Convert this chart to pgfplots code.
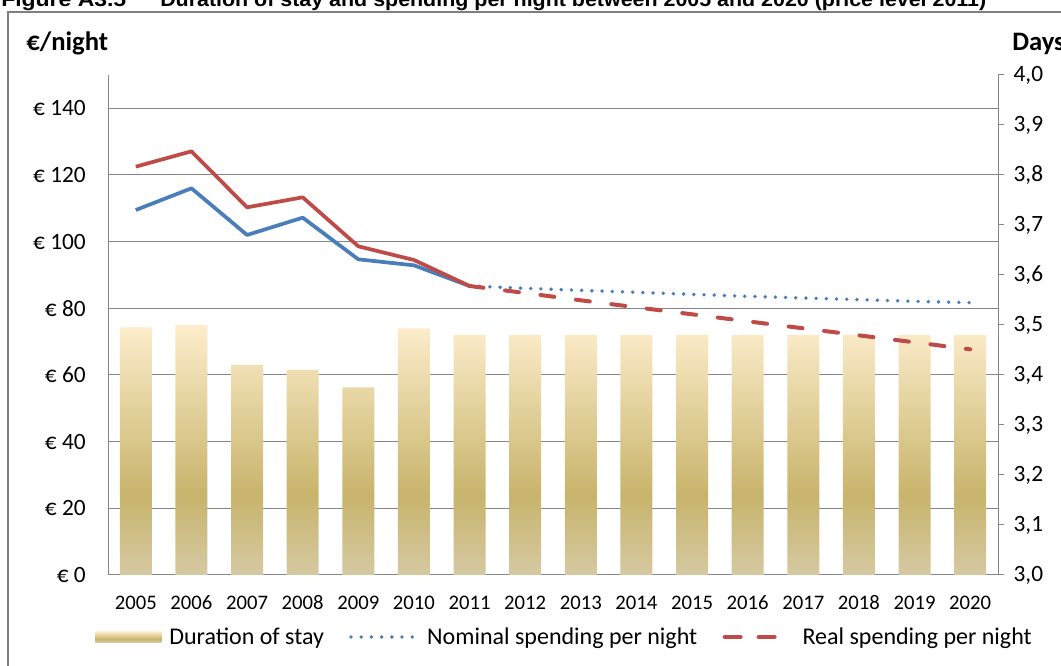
\documentclass[border=0pt]{standalone}
\usepackage{pgfplots}
\pgfplotsset{compat=1.18}
\usepackage{fontspec}
\setmainfont{Carlito}
\newfontfamily\titlefont{Liberation Sans}
\newlength\pxu \setlength\pxu{0.75pt}

\definecolor{gridgray}{HTML}{868686}
\definecolor{framegray}{HTML}{7F7F7F}
\definecolor{nomblue}{HTML}{4A7EBB}
\definecolor{realred}{HTML}{BE4B48}
\definecolor{goldtop}{HTML}{FDEDCB}
\definecolor{goldmid}{HTML}{C8B46C}
\definecolor{goldbot}{HTML}{D5C9A2}
\pgfdeclareverticalshading{goldbar}{100bp}{color(0bp)=(goldbot); color(25bp)=(goldbot); color(41bp)=(goldmid); color(75bp)=(goldtop); color(100bp)=(goldtop)}

\newcommand\ylab{\fontsize{17.5pt}{20pt}\selectfont}
\newcommand\xlab{\fontsize{15.5pt}{18pt}\selectfont}
\newcommand\lgd{\fontsize{18pt}{21pt}\selectfont}
\newcommand\hdr{\fontsize{20pt}{24pt}\selectfont\bfseries}

\pgfplotsset{base/.style={
  scale only axis, width=667.5pt, height=375pt,
  at={(81pt,68.25pt)}, anchor=south west,
  xmin=-0.5, xmax=15.5},
  nomlegend/.style={legend image code/.code={\draw[##1] (1.3pt,0pt) -- (47.2pt,0pt); \path (0pt,0pt) (51pt,0pt);}},
  reallegend/.style={legend image code/.code={\draw[##1, dash pattern=on 12pt off 13.5pt] (1.5pt,0pt) -- (39pt,0pt); \path (0pt,0pt) (52.5pt,0pt);}},
  barlegend/.style={legend image code/.code={\path[draw=none, shade, shading=goldbar] (0pt,-4pt) rectangle (49.5pt,4pt);}}
}

\begin{document}
\begin{tikzpicture}[x=0.75pt,y=0.75pt]
\useasboundingbox (0,0) rectangle (1061,666);
% frame
\draw[framegray, line width=1.5pt] (8,-20) -- (8,654) -- (1080,654);
% title (clipped at top, as in the source figure)
\node[anchor=base west, inner sep=0pt] at (1,659)
  {\resizebox{125\pxu}{\height}{\titlefont\bfseries\fontsize{15pt}{18pt}\selectfont Figure A3.5}};
\node[anchor=base west, inner sep=0pt] at (160,659)
  {\resizebox{826\pxu}{\height}{\titlefont\bfseries\fontsize{15pt}{18pt}\selectfont Duration of stay and spending per night between 2005 and 2020 (price level 2011)}};
% axis headers
\node[anchor=base west, inner sep=0pt] at (26,615) {\hdr €/night};
\node[anchor=base west, inner sep=0pt] at (1012,615) {\hdr Days};

% axis 1: grid, left axis, x labels
\begin{axis}[base, ymin=0, ymax=150,
  axis x line*=bottom, axis y line*=left,
  axis line style={draw=gridgray, line width=0.75pt, -},
  ymajorgrids, grid style={draw=gridgray, line width=0.75pt},
  ytick={0,20,40,60,80,100,120,140},
  yticklabels={€ 0,€ 20,€ 40,€ 60,€ 80,€ 100,€ 120,€ 140},
  xtick={0,1,2,3,4,5,6,7,8,9,10,11,12,13,14,15},
  xticklabels={2005,2006,2007,2008,2009,2010,2011,2012,2013,2014,2015,2016,2017,2018,2019,2020},
  major tick length=0pt,
  yticklabel style={font=\ylab, inner sep=0pt, anchor=east, xshift=-16.5pt},
  xticklabel style={font=\xlab, inner sep=0pt, anchor=base, yshift=-26pt},
]
\end{axis}

% axis 2: days (right), bars
\begin{axis}[base, ymin=3, ymax=4,
  y coord trafo/.code={\pgfmathparse{#1-3}},
  y coord inv trafo/.code={\pgfmathparse{#1+3}},
  axis x line=none, axis y line*=right,
  axis line style={draw=gridgray, line width=0.75pt, -},
  ytick={3.0,3.1,3.2,3.3,3.4,3.5,3.6,3.7,3.8,3.9,4.0},
  yticklabels={{3,0},{3,1},{3,2},{3,3},{3,4},{3,5},{3,6},{3,7},{3,8},{3,9},{4,0}},
  tick align=outside, major tick length=4.5pt,
  tick style={draw=gridgray, line width=0.75pt},
  yticklabel style={font=\ylab, inner sep=0pt, anchor=west, xshift=7pt},
  ybar, bar width=24pt,
]
\addplot[draw=none, shade, shading=goldbar] coordinates {
(0,3.495) (1,3.50) (2,3.42) (3,3.41) (4,3.375) (5,3.493) (6,3.48) (7,3.48)
(8,3.48) (9,3.48) (10,3.48) (11,3.48) (12,3.48) (13,3.48) (14,3.48) (15,3.48)};
\end{axis}

% axis 3: spending lines + legend
\begin{axis}[base, ymin=0, ymax=150, hide axis,
  legend columns=3,
  legend cell align=left,
  legend style={at={(axis description cs:-0.0146,-0.124)}, anchor=west,
    draw=none, fill=none, inner sep=0pt, font=\lgd,
    nodes={inner sep=0pt},
    /tikz/every odd column/.append style={column sep=6pt},
    /tikz/every even column/.append style={column sep=17.5pt}},
]
\addlegendimage{barlegend}
\addlegendentry{Duration of stay}

\addplot[nomblue, line width=2.8pt, line join=round, forget plot] coordinates {
(0,109.5) (1,116.0) (2,102.0) (3,107.2) (4,94.7) (5,92.9) (6,86.7)};
\addplot[nomblue, line width=2.9pt, line cap=round, dash pattern=on 0pt off 7.65pt, nomlegend]
  coordinates {
(6,86.7) (7,86.0) (8,85.4) (9,84.8) (10,84.2) (11,83.6) (12,83.1) (13,82.6) (14,82.1) (15,81.7)};
\addlegendentry{Nominal spending per night}

\addplot[realred, line width=2.8pt, line join=round, forget plot] coordinates {
(0,122.5) (1,127.1) (2,110.3) (3,113.3) (4,98.6) (5,94.5) (6,86.7)};
\addplot[realred, line width=3pt, line cap=round, dash pattern=on 10.5pt off 16.3pt, reallegend]
  coordinates {
(6,86.7) (7,84.6) (8,82.4) (9,80.3) (10,78.2) (11,76.1) (12,74.0) (13,71.9) (14,69.8) (15,67.7)};
\addlegendentry{Real spending per night}
\end{axis}
\end{tikzpicture}
\end{document}
